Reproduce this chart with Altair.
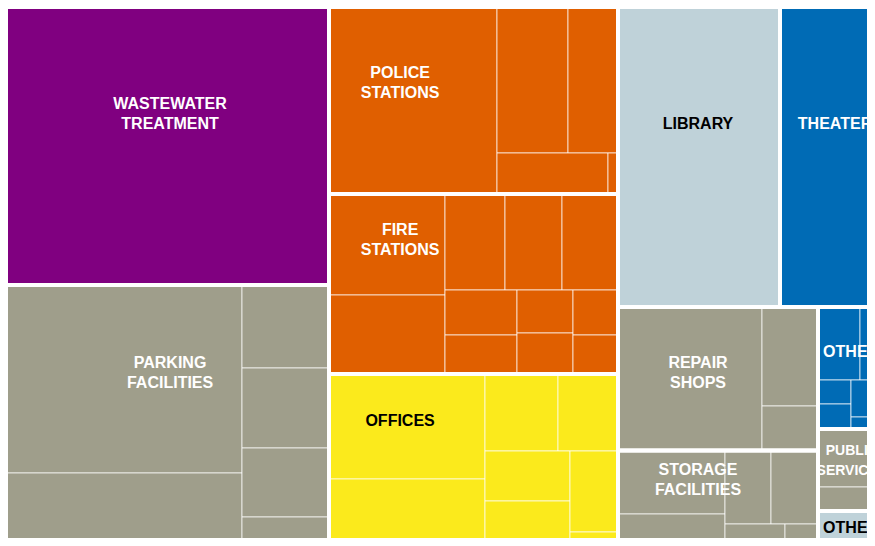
import altair as alt
import pandas as pd

# ---------------- data ----------------
categories = [
    "WASTEWATER\nTREATMENT", "PARKING\nFACILITIES", "POLICE\nSTATIONS",
    "FIRE\nSTATIONS", "OFFICES", "LIBRARY", "THEATER", "REPAIR\nSHOPS",
    "STORAGE\nFACILITIES", "OTHER", "PUBLIC\nSERVICES", "OTHER ",
]
# leaf values of every category, grouped into the strips of the treemap
wastewater = [[90906]]
parking = [[45120, 20400], [7221], [6960], [6003], [3567]]
police = [[31416], [10366, 7300], [4551], [410]]
fire = [[11716, 9164], [5760, 5472, 5376], [3240, 2808], [2408, 2296], [2025], [1755]]
offices = [[16380, 12324], [5621, 4620], [4250, 4845], [3888], [1248]]
library = [[48600]]
theater = [[33000]]
repair = [[20664], [5544], [2492]]
storage = [[6794.5, 4708], [3381, 3454.5], [2040], [495], [627]]
other_blue = [[3066, 2190], [792, 825], [666, 777], [468]]
public = [[4176], [1728]]
other_light = [[3384]]
leaves = [wastewater, parking, police, fire, offices, library, theater,
          repair, storage, other_blue, public, other_light]
# strips of categories at the top level (indices into categories)
top_strips = [[0, 1], [2, 3, 4], [5, 6], [7, 8], [9], [10], [11]]

# ---------------- style ----------------
PURPLE, ORANGE, YELLOW = "#800080", "#E05F00", "#FBEA1C"
GRAY, LIGHT, BLUE = "#9F9E8B", "#BFD2D9", "#006BB5"
fill = [PURPLE, GRAY, ORANGE, ORANGE, YELLOW, LIGHT, BLUE, GRAY, GRAY, BLUE, GRAY, LIGHT]
text_col = ["white", "white", "white", "white", "black", "black", "white",
            "white", "white", "white", "white", "black"]
font_size = [16, 16, 16, 16, 16, 16, 16, 16, 16, 16, 14, 16]
LINE_H = 19.5
label_frac = [(0.514, 0.385), (0.514, 0.322), (0.246, 0.406), (0.246, 0.256),
              (0.246, 0.255), (0.494, 0.39), (0.5, 0.39), (0.4, 0.46),
              (0.4, 0.274), (0.46, 0.369), (0.47, 0.378), (0.46, 0.36)]
EXTENT = (2, 7, 890, 558)   # treemap extent in layout units


def strip_layout(strips, x0, y0, x1, y1):
    """Squarify-style placement: each strip along the shorter side."""
    out = []
    remaining = sum(sum(s) for s in strips)
    for strip in strips:
        s = sum(strip)
        w, h = x1 - x0, y1 - y0
        if w >= h:
            t = w * s / remaining
            yy = y0
            for v in strip:
                hh = h * v / s
                out.append((x0, yy, x0 + t, yy + hh))
                yy += hh
            x0 += t
        else:
            t = h * s / remaining
            xx = x0
            for v in strip:
                ww = w * v / s
                out.append((xx, y0, xx + ww, y0 + t))
                xx += ww
            y0 += t
        remaining -= s
    return out


group_vals = [sum(sum(s) for s in lv) for lv in leaves]
top_rects = strip_layout([[group_vals[i] for i in st] for st in top_strips], *EXTENT)
order = [i for st in top_strips for i in st]
group_rect = {gi: r for gi, r in zip(order, top_rects)}

leaf_rows, group_rows, label_rows = [], [], []
for gi, cat in enumerate(categories):
    gx0, gy0, gx1, gy1 = group_rect[gi]
    group_rows.append(dict(cat=cat, x=gx0, x2=gx1, y=gy0, y2=gy1))
    for (lx0, ly0, lx1, ly1) in strip_layout(leaves[gi], gx0, gy0, gx1, gy1):
        leaf_rows.append(dict(cat=cat, x=lx0, x2=lx1, y=ly0, y2=ly1))
    fx, fy = label_frac[gi]
    n_lines = cat.count("\n") + 1
    lh = LINE_H * font_size[gi] / 16
    label_rows.append(dict(cat=cat, lx=gx0 + fx * (gx1 - gx0),
                           ly=gy0 + fy * (gy1 - gy0) - (n_lines - 1) * lh / 2,
                           tc=text_col[gi], fs=font_size[gi]))

leaf_df = pd.DataFrame(leaf_rows)
group_df = pd.DataFrame(group_rows)
label_df = pd.DataFrame(label_rows)

# visible page window (inside the 8px page margin)
xs = alt.Scale(domain=[8, 867], nice=False, zero=False)
ys = alt.Scale(domain=[8, 538], nice=False, zero=False, reverse=True)
color_scale = alt.Scale(domain=categories, range=fill)

leaf_layer = alt.Chart(leaf_df).mark_rect(
    clip=True, stroke="white", strokeWidth=1, strokeOpacity=0.7
).encode(
    x=alt.X("x:Q", scale=xs, axis=None), x2="x2:Q",
    y=alt.Y("y:Q", scale=ys, axis=None), y2="y2:Q",
    color=alt.Color("cat:N", scale=color_scale, legend=None),
)

group_layer = alt.Chart(group_df).mark_rect(
    clip=True, fillOpacity=0, stroke="white", strokeWidth=4
).encode(
    x=alt.X("x:Q", scale=xs, axis=None), x2="x2:Q",
    y=alt.Y("y:Q", scale=ys, axis=None), y2="y2:Q",
)

label_layer = alt.Chart(label_df).mark_text(
    clip=True, font="Liberation Sans", fontWeight="bold", lineBreak="\n",
    lineHeight=LINE_H, align="center", baseline="middle"
).encode(
    x=alt.X("lx:Q", scale=xs, axis=None),
    y=alt.Y("ly:Q", scale=ys, axis=None),
    text="cat:N",
    color=alt.Color("tc:N", scale=None),
    size=alt.Size("fs:Q", scale=None),
)

chart = alt.layer(leaf_layer, group_layer, label_layer).properties(
    width=859, height=530, padding=0, autosize="none", background="white"
).configure_view(stroke=None)

chart.save("out.html", embed_options={"renderer": "svg", "actions": False})
